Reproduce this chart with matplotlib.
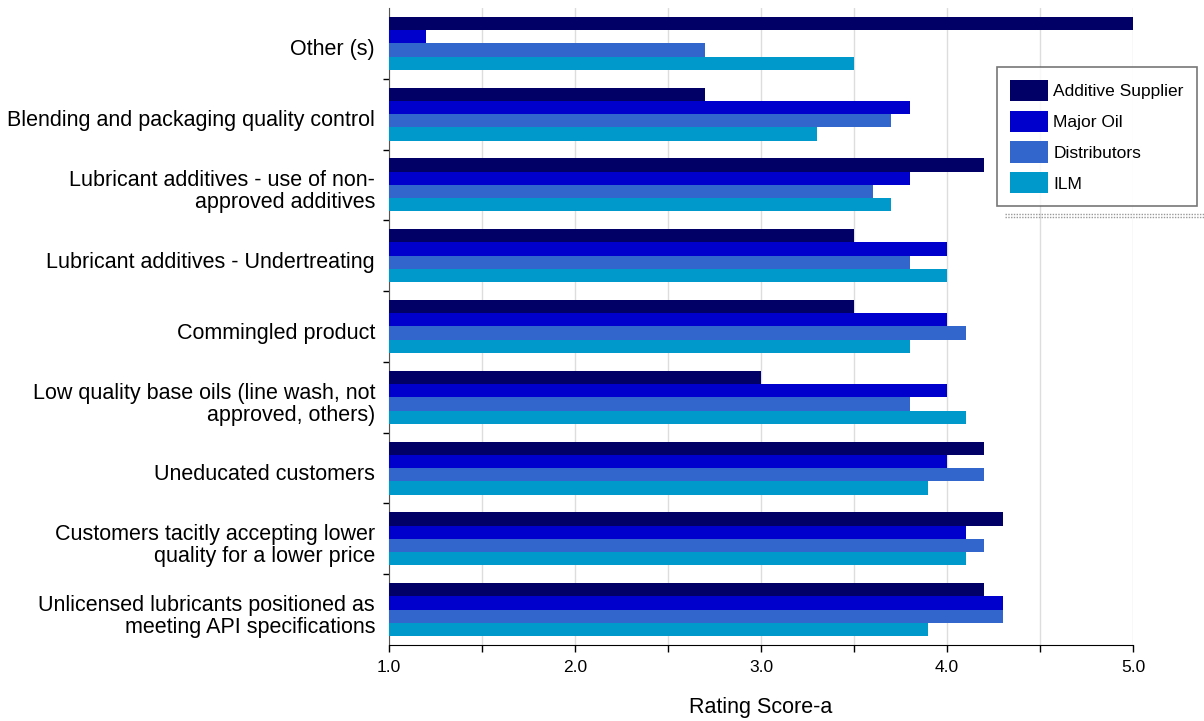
import numpy as np
import matplotlib.pyplot as plt
from matplotlib.lines import Line2D
from matplotlib.transforms import ScaledTranslation

plt.rcParams['font.family'] = ['Liberation Sans', 'DejaVu Sans']

categories = [
    'Other (s)',
    'Blending and packaging quality control',
    'Lubricant additives - use of non-\napproved additives',
    'Lubricant additives - Undertreating',
    'Commingled product',
    'Low quality base oils (line wash, not\napproved, others)',
    'Uneducated customers',
    'Customers tacitly accepting lower\nquality for a lower price',
    'Unlicensed lubricants positioned as\nmeeting API specifications',
]
series = ['Additive Supplier', 'Major Oil', 'Distributors', 'ILM']
additive_supplier = [5.0, 2.7, 4.2, 3.5, 3.5, 3.0, 4.2, 4.3, 4.2]
major_oil = [1.2, 3.8, 3.8, 4.0, 4.0, 4.0, 4.0, 4.1, 4.3]
distributors = [2.7, 3.7, 3.6, 3.8, 4.1, 3.8, 4.2, 4.2, 4.3]
ilm = [3.5, 3.3, 3.7, 4.0, 3.8, 4.1, 3.9, 4.1, 3.9]
colors = ['#000066', '#0000CC', '#3366CC', '#0099CC']

fig = plt.figure(figsize=(12.04, 7.21), dpi=100)
ax = fig.add_axes([389/1204, 76/721, 744/1204, 637/721])

base = 1.0
h = 0.187
y = np.arange(len(categories))
for k, (name, vals) in enumerate(zip(series, [additive_supplier, major_oil, distributors, ilm])):
    vals = np.array(vals)
    ax.barh(y + (k - 1.5) * h, vals - base, left=base, height=h,
            color=colors[k], label=name, zorder=3)

ax.set_xlim(1.0, 5.0)
ax.set_ylim(len(categories) - 0.5, -0.5)
ax.set_xticks(np.arange(1.0, 5.01, 0.5))
ax.set_xticklabels(['1.0', '', '2.0', '', '3.0', '', '4.0', '', '5.0'], fontsize=12.5)
ax.xaxis.grid(True, color='#dddddd', linewidth=1, zorder=0)
ax.tick_params(axis='x', direction='out', length=5, width=1, pad=6)

ax.set_yticks(y)
ax.set_yticklabels(categories, fontsize=15.5, multialignment='right', linespacing=1.05)
ax.set_yticks(np.arange(0.5, len(categories) - 0.5, 1), minor=True)
ax.tick_params(axis='y', which='major', length=0, pad=10)
ax.tick_params(axis='y', which='minor', direction='out', length=4, width=1)
# nudge category labels down a little
shift = ScaledTranslation(0, -4/100, fig.dpi_scale_trans)
for lab in ax.get_yticklabels():
    lab.set_transform(lab.get_transform() + shift)

for s in ['top', 'right']:
    ax.spines[s].set_visible(False)
ax.spines['left'].set_color('#555555')
ax.spines['bottom'].set_color('black')

ax.set_xlabel('Rating Score-a', fontsize=15.5, labelpad=16)

leg = fig.legend(loc='upper left', bbox_to_anchor=(997/1204, 1 - 67/721),
                 fontsize=12.5, frameon=True, fancybox=False, edgecolor='#555555',
                 handlelength=2.2, handleheight=1.5, labelspacing=0.55,
                 borderpad=0.75, handletextpad=0.3, borderaxespad=0)
leg.get_frame().set_linewidth(1.2)

# dotted shadow under the legend box
fig.add_artist(Line2D([1005/1204, 1.0], [1 - 214/721, 1 - 214/721],
                      color='#999999', linestyle=(0, (1, 1)), linewidth=1))
fig.add_artist(Line2D([1005/1204, 1.0], [1 - 217/721, 1 - 217/721],
                      color='#999999', linestyle=(0, (1, 1)), linewidth=1))

fig.savefig('out.png', dpi=100)
